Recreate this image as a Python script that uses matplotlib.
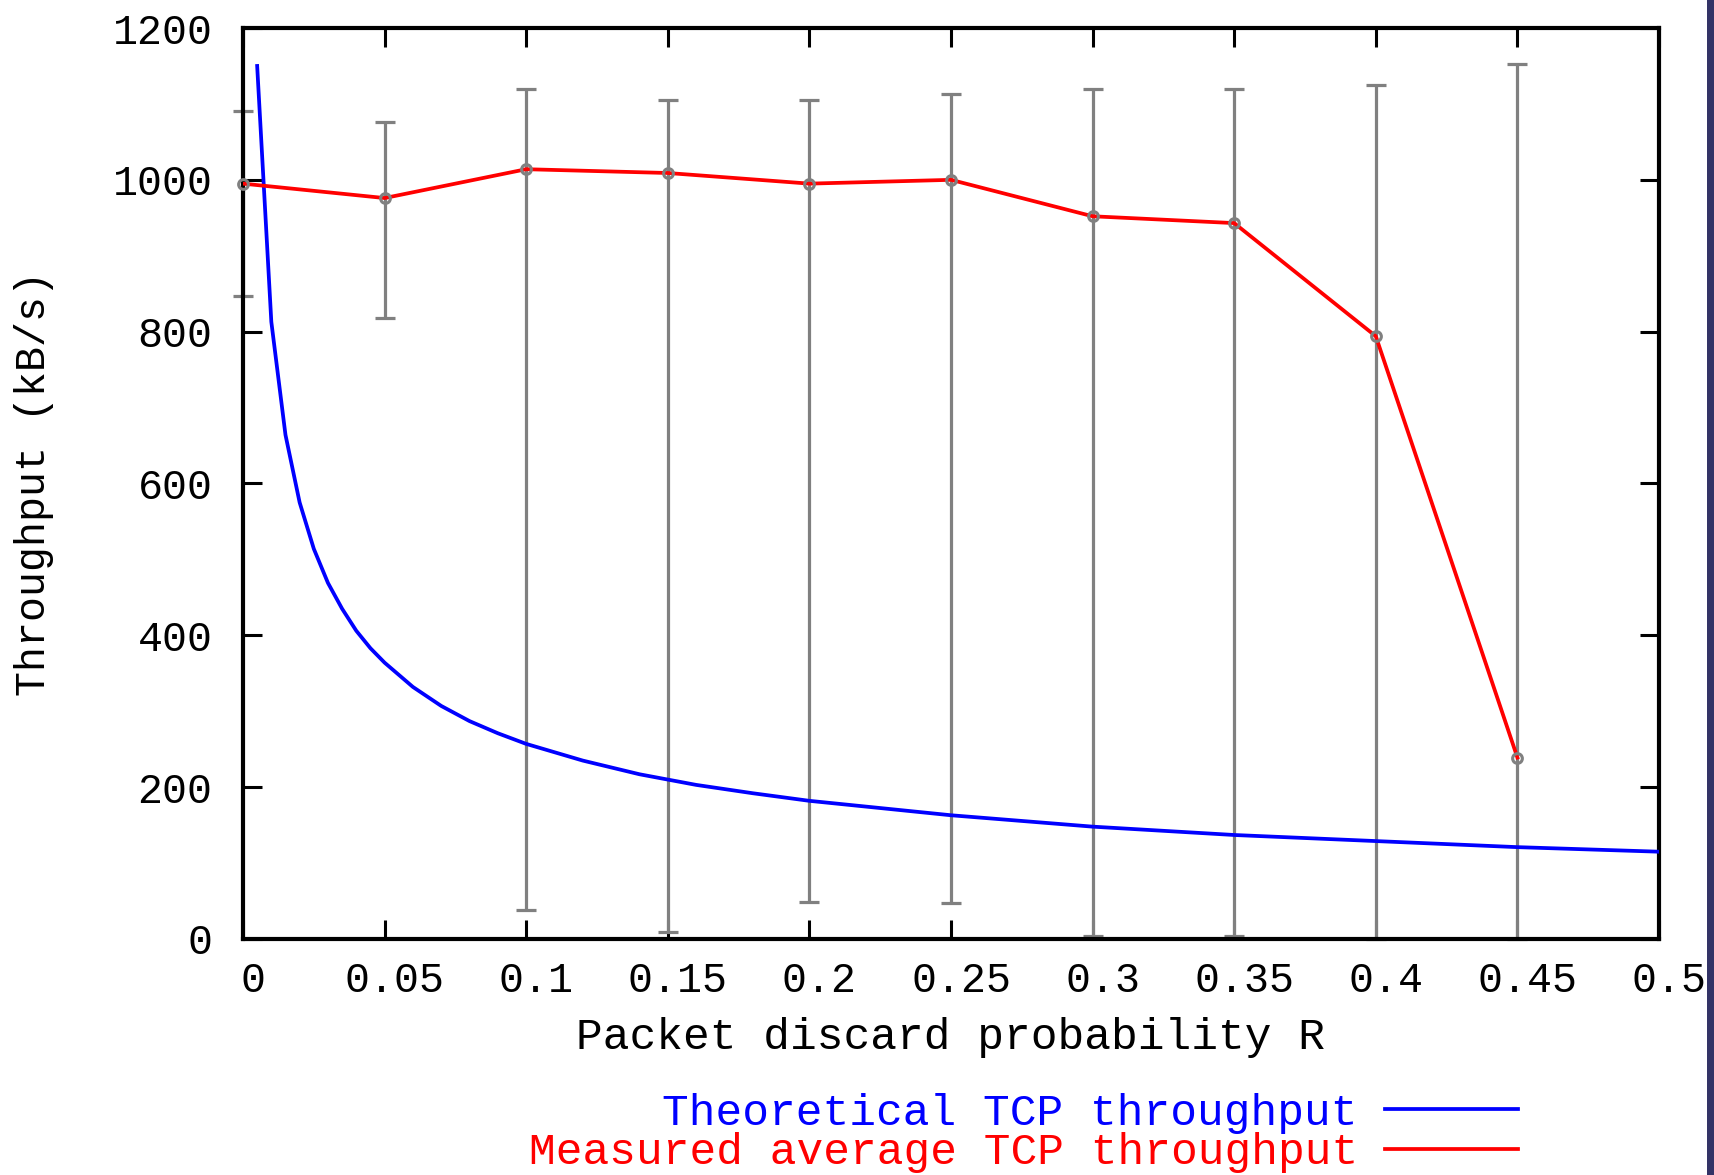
import matplotlib
matplotlib.use("Agg")
import matplotlib.pyplot as plt
from matplotlib.patches import Rectangle
import matplotlib.transforms as mtransforms

# ---------------- data ----------------
meas_x = [0.0, 0.05, 0.10, 0.15, 0.20, 0.25, 0.30, 0.35, 0.40, 0.45]
meas_y = [995, 976, 1014, 1009, 995, 1000, 952, 943, 794, 239]
err_hi = [1091, 1076, 1119, 1105, 1105, 1113, 1119, 1119, 1125, 1152]
err_lo = [847, 818, 38, 9, 49, 48, 4, 4, 0, 0]

theo_x = [0.005, 0.01, 0.015, 0.02, 0.025, 0.03, 0.035, 0.04, 0.045, 0.05,
          0.06, 0.07, 0.08, 0.09, 0.10, 0.12, 0.14, 0.16, 0.18, 0.20,
          0.25, 0.30, 0.35, 0.40, 0.45, 0.50]
theo_y = [1150, 813, 664, 575, 514, 469, 435, 406, 383, 364,
          332, 307, 287, 271, 257, 235, 217, 203, 192, 182,
          163, 148, 137, 129, 121, 115]

x_ticks = [0, 0.05, 0.1, 0.15, 0.2, 0.25, 0.3, 0.35, 0.4, 0.45, 0.5]
x_tick_labels = ["0", "0.05", "0.1", "0.15", "0.2", "0.25", "0.3", "0.35", "0.4", "0.45", "0.5"]
y_ticks = [0, 200, 400, 600, 800, 1000, 1200]
y_tick_labels = ["0", "200", "400", "600", "800", "1000", "1200"]

label_theo = "Theoretical TCP throughput"
label_meas = "Measured average TCP throughput"
xlabel = "Packet discard probability R"
ylabel = "Throughput (kB/s)"

# ---------------- figure ----------------
W, H, DPI = 1714, 1175, 100
FONT = "Liberation Mono"
FS = 30
FS_BIG = 32

fig = plt.figure(figsize=(W / DPI, H / DPI), dpi=DPI, facecolor="white")
ax = fig.add_axes([243 / W, (H - 939) / H, 1416 / W, 911 / H])

GRAY = "#808080"
lo = [m - l for m, l in zip(meas_y, err_lo)]
hi = [h - m for m, h in zip(meas_y, err_hi)]
ax.errorbar(meas_x, meas_y, yerr=[lo, hi], fmt="none", ecolor=GRAY,
            elinewidth=2.3, capsize=7, capthick=2.3, zorder=2, clip_on=False)
ax.plot(theo_x, theo_y, color="#0000ff", lw=2.7, zorder=3, label=label_theo)
ax.plot(meas_x, meas_y, color="#ff0000", lw=2.7, zorder=3, label=label_meas)
ax.plot(meas_x, meas_y, linestyle="none", marker="o", ms=7, mfc="none",
        mec=GRAY, mew=2.2, zorder=4, clip_on=False)

ax.set_xlim(0, 0.5)
ax.set_ylim(0, 1200)
ax.set_xticks(x_ticks)
ax.set_xticklabels(x_tick_labels)
ax.set_yticks(y_ticks)
ax.set_yticklabels(y_tick_labels)

for s in ax.spines.values():
    s.set_linewidth(3.0)
    s.set_color("black")

ax.tick_params(axis="both", which="major", direction="in", length=14, width=2.2,
               top=True, right=True, labelsize=FS, colors="black")
ax.tick_params(axis="x", pad=16)
ax.tick_params(axis="y", pad=22)
for lab in ax.get_xticklabels() + ax.get_yticklabels():
    lab.set_fontfamily(FONT)
# gnuplot places x tick labels slightly to the right
offset = mtransforms.ScaledTranslation(10 / DPI, 0, fig.dpi_scale_trans)
for lab in ax.get_xticklabels():
    lab.set_transform(lab.get_transform() + offset)

ax.set_xlabel(xlabel, fontsize=FS_BIG, fontfamily=FONT)
ax.set_ylabel(ylabel, fontsize=FS, fontfamily=FONT)
ax.xaxis.set_label_coords(0.5, (939 - 1037) / 911)
ax.xaxis.label.set_va("center")
ax.yaxis.set_label_coords((34 - 243) / 1416, 0.5)
ax.yaxis.label.set_va("center")
ax.yaxis.label.set_ha("center")

# legend (below plot, right aligned text, line sample on the right)
leg = ax.legend(loc="upper right", bbox_to_anchor=(1518 / W, (H - 1093) / H),
                bbox_transform=fig.transFigure, frameon=False, markerfirst=False,
                prop={"family": FONT, "size": FS_BIG}, handlelength=3.0,
                handletextpad=0.6, labelspacing=-0.04, borderpad=0, borderaxespad=0,
                labelcolor="linecolor")

# dark bar on the right edge
fig.add_artist(Rectangle((1707 / W, 0), 7 / W, 1, transform=fig.transFigure,
                         facecolor="#333366", edgecolor="none", zorder=10))

fig.savefig("out.png", dpi=DPI, facecolor="white")
